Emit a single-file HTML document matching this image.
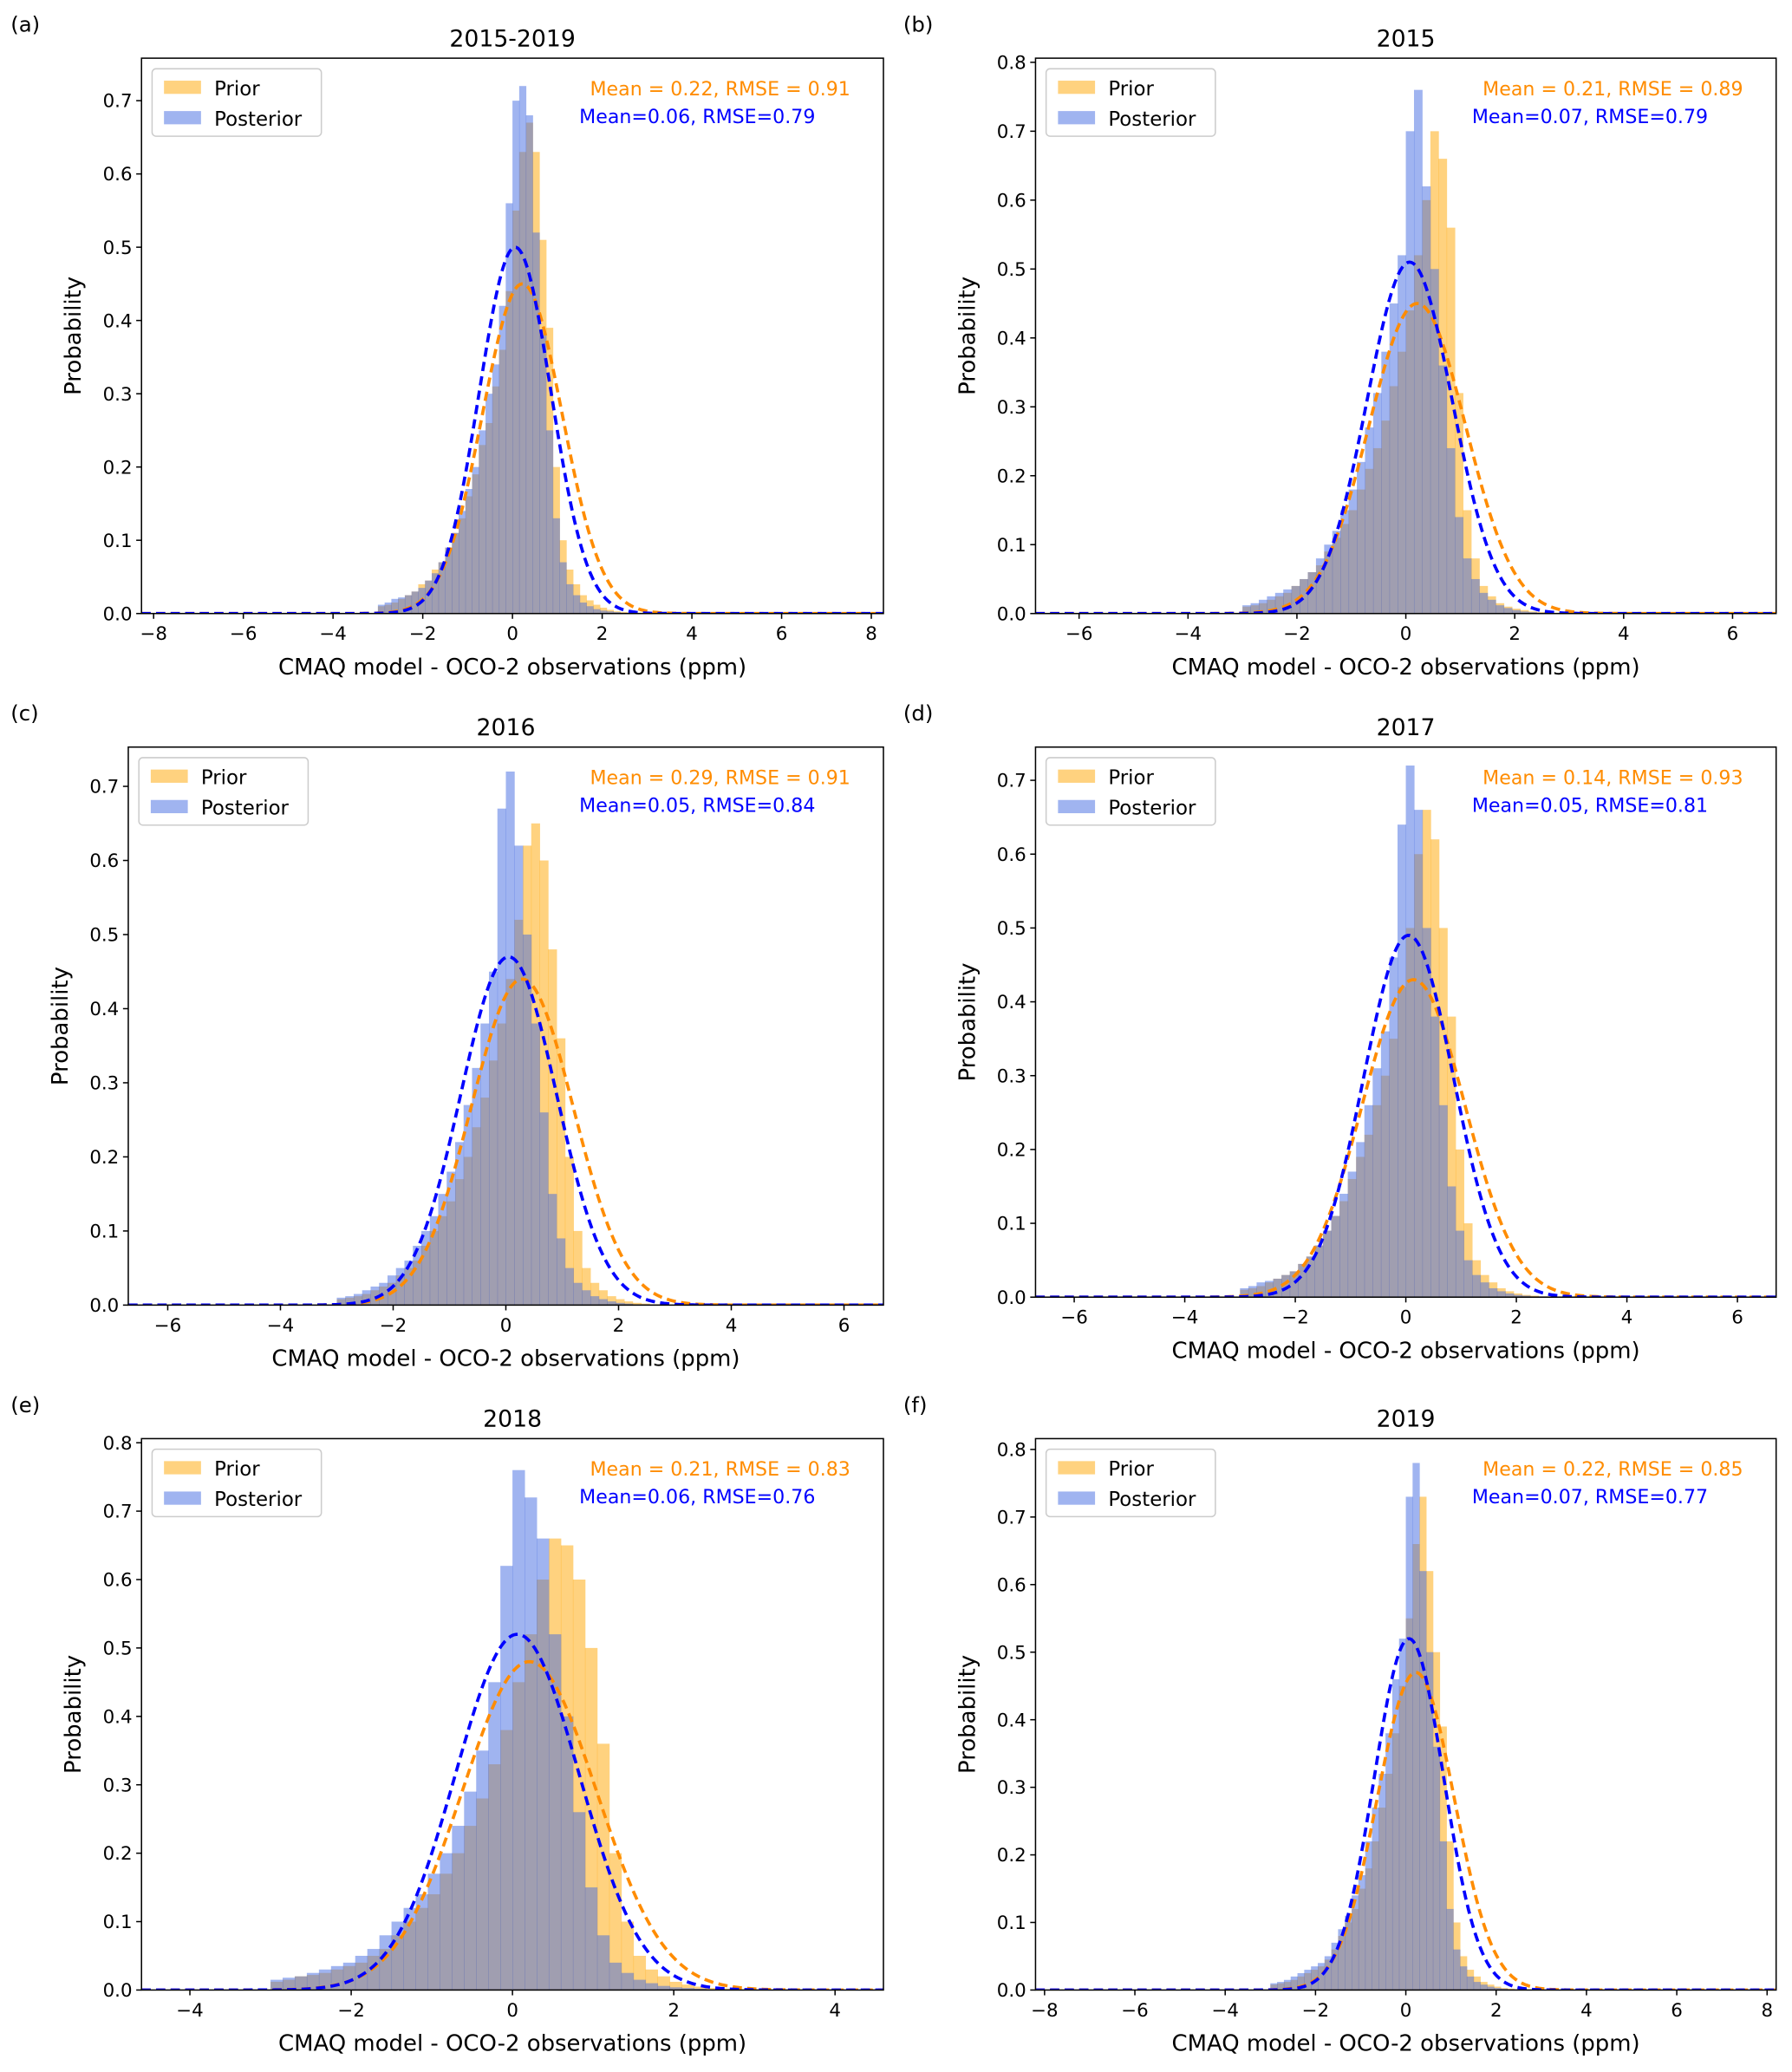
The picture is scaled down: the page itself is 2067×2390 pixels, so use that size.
<!DOCTYPE html>
<html><head><meta charset="utf-8"><style>
html,body{margin:0;padding:0;background:#fff}
svg{display:block;font-family:"DejaVu Sans","Liberation Sans",sans-serif}
</style></head><body>
<svg id="fig" width="2067" height="2390" viewBox="0 0 1355 1567" preserveAspectRatio="none" xmlns="http://www.w3.org/2000/svg"></svg>
<script>
// ---- data (bins: start -3.0, width 0.15, 40 bins) ----
const binStart = -3.0;
const binWidth = 0.15;
const priorA = [0.01,0.012,0.015,0.02,0.025,0.03,0.04,0.045,0.06,0.07,0.09,0.11,0.13,0.16,0.19,0.23,0.26,0.31,0.36,0.44,0.55,0.63,0.67,0.63,0.51,0.39,0.2,0.1,0.06,0.04,0.025,0.018,0.012,0.008,0.005,0.003,0.002,0.001,0.001,0];
const postA = [0.012,0.015,0.02,0.022,0.025,0.03,0.035,0.045,0.055,0.07,0.09,0.11,0.14,0.17,0.2,0.25,0.3,0.34,0.42,0.56,0.70,0.72,0.68,0.52,0.38,0.25,0.13,0.07,0.04,0.025,0.015,0.01,0.006,0.004,0.003,0.002,0.001,0.001,0,0];
const priorB = [0.01,0.012,0.015,0.02,0.025,0.03,0.04,0.05,0.06,0.07,0.09,0.11,0.13,0.15,0.18,0.21,0.24,0.28,0.33,0.38,0.44,0.52,0.60,0.70,0.66,0.56,0.32,0.15,0.08,0.04,0.025,0.015,0.01,0.007,0.005,0.003,0.002,0.001,0.001,0];
const postB = [0.012,0.015,0.02,0.025,0.03,0.035,0.04,0.05,0.06,0.08,0.1,0.12,0.15,0.18,0.22,0.27,0.32,0.38,0.45,0.52,0.70,0.76,0.62,0.50,0.36,0.24,0.14,0.08,0.05,0.03,0.02,0.012,0.008,0.005,0.003,0.002,0.001,0.001,0,0];
const priorC = [0.008,0.01,0.012,0.015,0.02,0.025,0.03,0.04,0.05,0.06,0.08,0.1,0.12,0.14,0.17,0.2,0.24,0.28,0.33,0.38,0.44,0.52,0.62,0.65,0.60,0.48,0.36,0.2,0.1,0.05,0.03,0.02,0.012,0.008,0.005,0.003,0.002,0.001,0.001,0];
const postC = [0.01,0.012,0.015,0.02,0.025,0.03,0.04,0.05,0.06,0.08,0.1,0.12,0.15,0.18,0.22,0.27,0.32,0.38,0.45,0.67,0.72,0.62,0.50,0.38,0.26,0.15,0.09,0.05,0.03,0.02,0.012,0.008,0.005,0.003,0.002,0.001,0.001,0,0,0];
const priorD = [0.01,0.012,0.015,0.02,0.025,0.03,0.035,0.045,0.055,0.07,0.09,0.11,0.13,0.16,0.19,0.22,0.26,0.3,0.35,0.42,0.50,0.60,0.66,0.62,0.50,0.38,0.2,0.1,0.05,0.03,0.02,0.012,0.008,0.005,0.003,0.002,0.001,0.001,0,0];
const postD = [0.012,0.015,0.02,0.022,0.025,0.03,0.035,0.045,0.055,0.07,0.09,0.11,0.14,0.17,0.21,0.26,0.31,0.36,0.46,0.64,0.72,0.66,0.50,0.38,0.26,0.15,0.09,0.05,0.03,0.02,0.012,0.008,0.005,0.003,0.002,0.001,0.001,0,0,0];
const priorE = [0.012,0.015,0.02,0.022,0.025,0.03,0.035,0.04,0.05,0.06,0.08,0.1,0.12,0.14,0.17,0.2,0.24,0.28,0.33,0.38,0.45,0.52,0.60,0.66,0.65,0.60,0.50,0.36,0.2,0.1,0.05,0.03,0.02,0.012,0.008,0.005,0.003,0.002,0.001,0];
const postE = [0.015,0.018,0.02,0.025,0.03,0.035,0.04,0.05,0.06,0.08,0.1,0.12,0.14,0.17,0.2,0.24,0.29,0.35,0.45,0.62,0.76,0.72,0.66,0.52,0.4,0.26,0.15,0.08,0.04,0.025,0.015,0.01,0.006,0.004,0.003,0.002,0.001,0.001,0,0];
const priorF = [0.008,0.01,0.012,0.015,0.02,0.025,0.03,0.035,0.045,0.06,0.08,0.1,0.12,0.15,0.18,0.22,0.27,0.32,0.38,0.45,0.55,0.66,0.73,0.62,0.50,0.39,0.22,0.1,0.05,0.03,0.02,0.012,0.008,0.005,0.003,0.002,0.001,0.001,0,0];
const postF = [0.01,0.012,0.015,0.02,0.025,0.03,0.035,0.04,0.05,0.07,0.09,0.11,0.14,0.17,0.22,0.27,0.32,0.38,0.46,0.52,0.73,0.78,0.62,0.50,0.36,0.22,0.12,0.06,0.035,0.02,0.012,0.008,0.005,0.003,0.002,0.001,0.001,0,0,0];
const priorMeans = [0.22,0.21,0.29,0.14,0.21,0.22];
const priorPeaks = [0.45,0.45,0.44,0.43,0.48,0.47];
const postMeans = [0.06,0.07,0.05,0.05,0.06,0.07];
const postPeaks = [0.50,0.51,0.47,0.49,0.52,0.52];
const titles = ["2015-2019","2015","2016","2017","2018","2019"];
const letters = ["(a)","(b)","(c)","(d)","(e)","(f)"];
const priorText = ["Mean = 0.22, RMSE = 0.91","Mean = 0.21, RMSE = 0.89","Mean = 0.29, RMSE = 0.91","Mean = 0.14, RMSE = 0.93","Mean = 0.21, RMSE = 0.83","Mean = 0.22, RMSE = 0.85"];
const postText = ["Mean=0.06, RMSE=0.79","Mean=0.07, RMSE=0.79","Mean=0.05, RMSE=0.84","Mean=0.05, RMSE=0.81","Mean=0.06, RMSE=0.76","Mean=0.07, RMSE=0.77"];
const xTicksA = [-8,-6,-4,-2,0,2,4,6,8];
const xTicks6 = [-6,-4,-2,0,2,4,6];
const xTicks4 = [-4,-2,0,2,4];
const yTicks7 = [0,0.1,0.2,0.3,0.4,0.5,0.6,0.7];
const yTicks8 = [0,0.1,0.2,0.3,0.4,0.5,0.6,0.7,0.8];

// ---- layout ----
const panels = [
 {id:'a',L:107,R:668,T:44,B:464,xmin:-8.27,xmax:8.27,ymax:0.758,xt:xTicksA,yt:yTicks7,pr:priorA,po:postA},
 {id:'b',L:783,R:1343,T:44,B:464,xmin:-6.8,xmax:6.8,ymax:0.806,xt:xTicks6,yt:yTicks8,pr:priorB,po:postB},
 {id:'c',L:97,R:668,T:565,B:987,xmin:-6.7,xmax:6.7,ymax:0.753,xt:xTicks6,yt:yTicks7,pr:priorC,po:postC},
 {id:'d',L:783,R:1343,T:565,B:981,xmin:-6.7,xmax:6.7,ymax:0.745,xt:xTicks6,yt:yTicks7,pr:priorD,po:postD},
 {id:'e',L:107,R:668,T:1088,B:1505,xmin:-4.6,xmax:4.6,ymax:0.806,xt:xTicks4,yt:yTicks8,pr:priorE,po:postE},
 {id:'f',L:783,R:1343,T:1088,B:1505,xmin:-8.2,xmax:8.2,ymax:0.816,xt:xTicksA,yt:yTicks8,pr:priorF,po:postF}
];
const NS='http://www.w3.org/2000/svg';
const svg=document.getElementById('fig');
function mk(tag,attrs,parent,txt){const e=document.createElementNS(NS,tag);for(const k in attrs)e.setAttribute(k,attrs[k]);if(txt!==undefined)e.textContent=txt;parent.appendChild(e);return e;}
function fmtTick(v){return v<0?'\u2212'+(-v):String(v);}
panels.forEach((p,k)=>{
 const g=mk('g',{},svg);
 
 
 const sx=v=>p.L+(v-p.xmin)/(p.xmax-p.xmin)*(p.R-p.L);
 const sy=v=>p.B-v/p.ymax*(p.B-p.T);
 const cp=mk('clipPath',{id:'clip'+p.id},g);mk('rect',{x:p.L,y:p.T,width:p.R-p.L,height:p.B-p.T},cp);
 const plot=mk('g',{'clip-path':'url(#clip'+p.id+')'},g);
 [[p.pr,'#FFA500','prior'],[p.po,'#4169E1','posterior']].forEach(([arr,col,nm])=>{
  arr.forEach((v,i)=>{
   const x0=sx(binStart+i*binWidth),x1=sx(binStart+(i+1)*binWidth);
   const r=mk('rect',{x:x0,y:sy(v),width:x1-x0+0.3,height:Math.max(0,p.B-sy(v)),fill:col,'fill-opacity':0.5},plot);
   
   
  });
 });
 [[priorMeans[k],priorPeaks[k],'#FF8C00','prior-fit-curve'],[postMeans[k],postPeaks[k],'#0000FF','posterior-fit-curve']].forEach(([mu,pk,col,nm])=>{
  const s=1/(pk*Math.sqrt(2*Math.PI));let d='';
  for(let j=0;j<=400;j++){const x=p.xmin+(p.xmax-p.xmin)*j/400;const y=pk*Math.exp(-0.5*((x-mu)/s)**2);d+=(j?'L':'M')+sx(x).toFixed(2)+','+sy(y).toFixed(2);}
  const pa=mk('path',{d:d,fill:'none',stroke:col,'stroke-width':2.4,'stroke-dasharray':'7,4'},plot);
  
  
 });
 mk('rect',{x:p.L,y:p.T,width:p.R-p.L,height:p.B-p.T,fill:'none',stroke:'#000','stroke-width':1},g);
 p.xt.forEach(v=>{const x=sx(v);mk('line',{x1:x,x2:x,y1:p.B,y2:p.B+4,stroke:'#000'},g);
  const t=mk('text',{x:x,y:p.B+20,'font-size':14,'text-anchor':'middle'},g,fmtTick(v));
  });
 p.yt.forEach(v=>{const y=sy(v);mk('line',{x1:p.L-4,x2:p.L,y1:y,y2:y,stroke:'#000'},g);
  const t=mk('text',{x:p.L-7,y:y+5,'font-size':14,'text-anchor':'end'},g,v.toFixed(1));
  });
 const xl=mk('text',{x:(p.L+p.R)/2,y:p.B+46,'font-size':17,'text-anchor':'middle'},g,'CMAQ model - OCO-2 observations (ppm)');
 
 const yl=mk('text',{x:0,y:0,'font-size':17,'text-anchor':'middle',transform:'translate('+(p.L-46)+','+((p.T+p.B)/2)+') rotate(-90)'},g,'Probability');
 
 const ti=mk('text',{x:(p.L+p.R)/2,y:p.T-9,'font-size':17.5,'text-anchor':'middle'},g,titles[k]);
 
 const lt=mk('text',{x:p.L<500?8:683,y:p.T-20,'font-size':16},g,letters[k]);
 
 const lg=mk('g',{},g);
 const lx=p.L+8,ly=p.T+8;
 mk('rect',{x:lx,y:ly,width:128,height:51,rx:3,fill:'#fff','fill-opacity':0.8,stroke:'#ccc'},lg);
 mk('rect',{x:lx+9,y:ly+9,width:28,height:10,fill:'#FFA500','fill-opacity':0.5},lg);
 mk('rect',{x:lx+9,y:ly+32,width:28,height:10,fill:'#4169E1','fill-opacity':0.5},lg);
 mk('text',{x:lx+47,y:ly+20,'font-size':15},lg,'Prior');
 mk('text',{x:lx+47,y:ly+43,'font-size':15},lg,'Posterior');
 const a1=mk('text',{x:p.R-25,y:p.T+28,'font-size':14.5,'text-anchor':'end',fill:'#FF8C00'},g,priorText[k]);
 
 const a2=mk('text',{x:p.R-230,y:p.T+49,'font-size':14.5,fill:'#0000FF'},g,postText[k]);
 
});
</script>
</body></html>
